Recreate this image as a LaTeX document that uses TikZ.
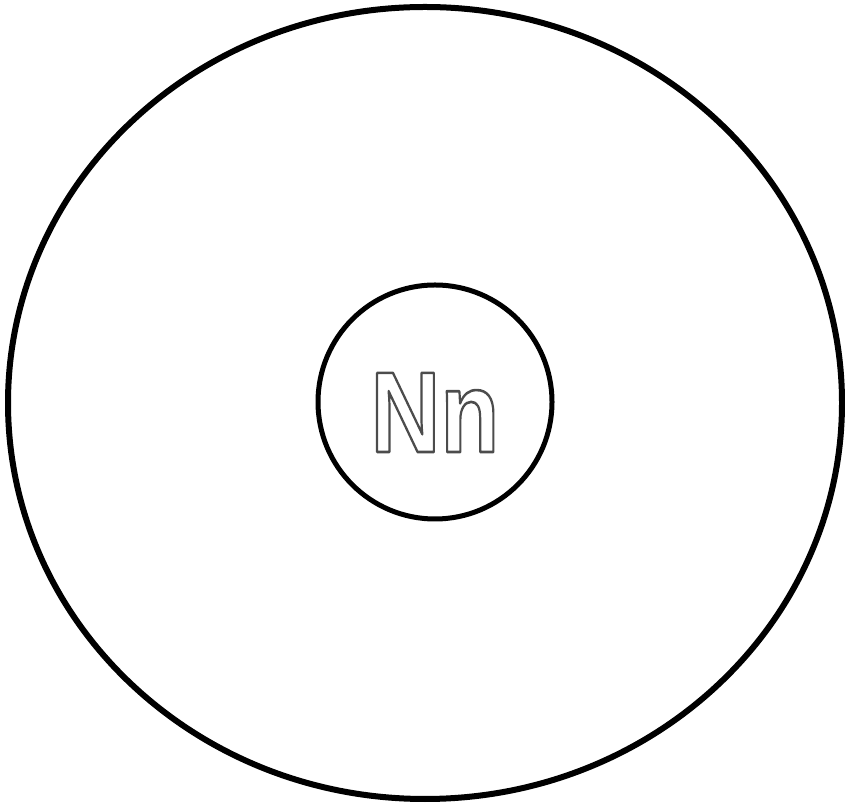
\documentclass[tikz,border=0pt]{standalone}
\usepackage{fontspec}
\setmainfont{Liberation Sans}
\newcommand{\outlinetext}[1]{\special{pdf:literal direct 1 Tr 2.6 w 1 j}#1\special{pdf:literal direct 0 Tr}}
\begin{document}
\begin{tikzpicture}[x=1pt,y=1pt,
  ring/.style={draw=black,line width=6pt},
  corering/.style={draw=black,line width=5pt},
  label/.style={inner sep=0pt,anchor=base,xscale=0.84,text=black!70}]
\useasboundingbox (0,0) rectangle (845,805);
\draw[ring] (425,402) ellipse [x radius=417, y radius=396];
\node[circle,corering,minimum size=234pt,inner sep=0pt] (core) at (435,403) {};
\node[label] (sym) at (435,353) {\fontsize{115}{116}\selectfont\bfseries\outlinetext{Nn}};
\end{tikzpicture}
\end{document}
